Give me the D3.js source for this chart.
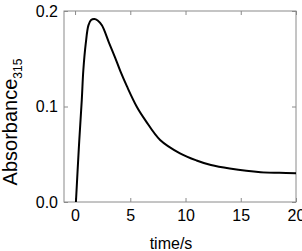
<!DOCTYPE html>
<meta charset="utf-8">
<script src="https://d3js.org/d3.v7.min.js"></script>
<style>
  body { margin: 0; background: #fff; }
  text { font-family: "Liberation Sans", Arial, sans-serif; fill: #000; }
</style>
<div id="dataVis"></div>
<script>
// absorbance trace
var timeS = [0.08, 0.35, 0.61, 0.75, 0.97, 1.21, 1.45, 1.75, 2.05, 2.43, 3.05, 3.6, 4.1, 4.7,
             5.6, 6.4, 7.7, 9.5, 11, 12.3, 14, 16.8, 18.5, 20];
var absorbance = [0, 0.058, 0.107, 0.138, 0.166, 0.185, 0.1905, 0.1916, 0.190, 0.185, 0.1675, 0.152, 0.137, 0.121,
                  0.0995, 0.085, 0.065, 0.051, 0.0435, 0.0387, 0.035, 0.0311, 0.0305, 0.0302];
var xTicks = [0, 5, 10, 15, 20];
var yTicks = [0, 0.1, 0.2];

// plot box (note: "top" is a reserved window global, so prefix these)
var plotLeft = 64, plotTop = 11, plotRight = 296, plotBottom = 202;

var x = d3.scaleLinear().domain([-1, 20]).range([plotLeft, plotRight]);
var y = d3.scaleLinear().domain([0, 0.2]).range([plotBottom, plotTop]);

var svg = d3.select('#dataVis')
  .append('svg')
    .attr('width', 302)
    .attr('height', 251);

// frame
svg.append('rect')
  .attr('x', plotLeft).attr('y', plotTop)
  .attr('width', plotRight - plotLeft).attr('height', plotBottom - plotTop)
  .attr('fill', 'none')
  .attr('stroke', '#8a8a8a')
  .attr('stroke-width', 1);

function styleAxis(g) {
  g.select('.domain').remove();
  g.selectAll('.tick line').attr('stroke', '#8a8a8a');
  g.selectAll('.tick text')
    .attr('font-size', 16)
    .attr('font-family', '"Liberation Sans", Arial, sans-serif')
    .attr('fill', '#000');
}

svg.append('g')
  .attr('transform', 'translate(0,' + plotBottom + ')')
  .call(d3.axisBottom(x).tickValues(xTicks).tickSizeInner(-4).tickSizeOuter(0).tickPadding(8))
  .call(styleAxis);

svg.append('g')
  .attr('transform', 'translate(0,' + plotTop + ')')
  .call(d3.axisTop(x).tickValues(xTicks).tickSizeInner(-4).tickSizeOuter(0).tickFormat(''))
  .call(styleAxis);

svg.append('g')
  .attr('transform', 'translate(' + plotLeft + ',0)')
  .call(d3.axisLeft(y).tickValues(yTicks).tickSizeInner(-4).tickSizeOuter(0).tickPadding(6).tickFormat(d3.format('.1f')))
  .call(styleAxis);

svg.append('g')
  .attr('transform', 'translate(' + plotRight + ',0)')
  .call(d3.axisRight(y).tickValues(yTicks).tickSizeInner(-4).tickSizeOuter(0).tickFormat(''))
  .call(styleAxis);

// curve
var line = d3.line()
  .x((d, i) => x(timeS[i]))
  .y(d => y(d))
  .curve(d3.curveCatmullRom.alpha(0.5));

svg.append('path')
  .datum(absorbance)
  .attr('d', line)
  .attr('fill', 'none')
  .attr('stroke', '#000')
  .attr('stroke-width', 2);

// axis titles
svg.append('text')
  .attr('x', 171)
  .attr('y', 249)
  .attr('text-anchor', 'middle')
  .attr('font-size', 16)
  .text('time/s');

var yTitle = svg.append('text')
  .attr('transform', 'translate(17,122) rotate(-90)')
  .attr('text-anchor', 'middle')
  .attr('font-size', 20);
yTitle.append('tspan').text('Absorbance');
yTitle.append('tspan').attr('font-size', 12).attr('dy', 5).text('315');
</script>
